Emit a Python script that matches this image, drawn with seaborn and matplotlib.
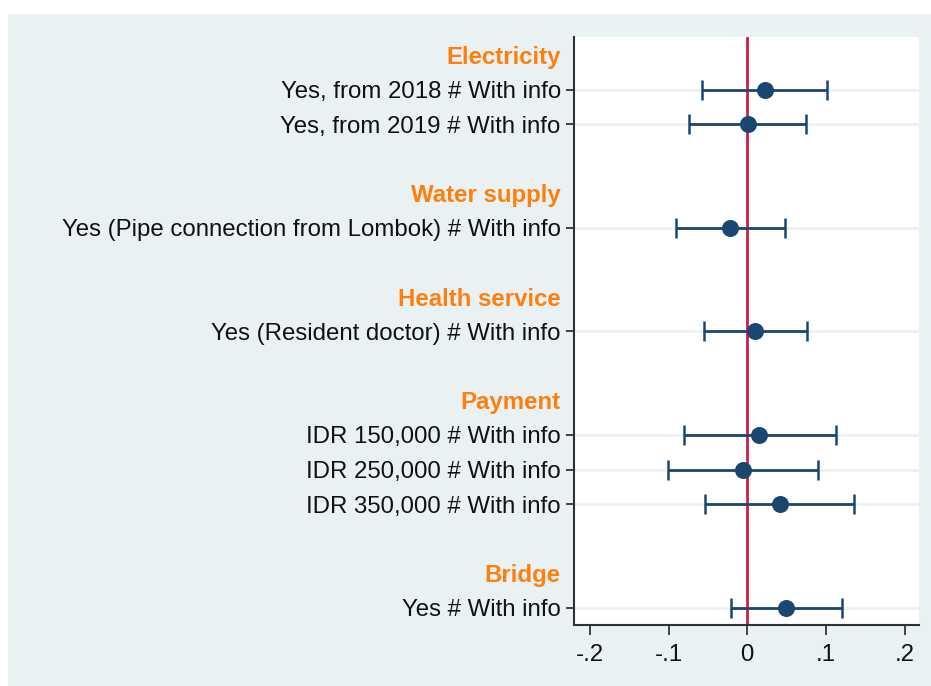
import matplotlib
matplotlib.use("Agg")
import matplotlib.pyplot as plt
import seaborn as sns
import pandas as pd
from matplotlib.patches import Rectangle

# ---- data ----
groups = ["Electricity", "Water supply", "Health service", "Payment", "Bridge"]
group_items = [
    ["Yes, from 2018 # With info", "Yes, from 2019 # With info"],
    ["Yes (Pipe connection from Lombok) # With info"],
    ["Yes (Resident doctor) # With info"],
    ["IDR 150,000 # With info", "IDR 250,000 # With info", "IDR 350,000 # With info"],
    ["Yes # With info"],
]
coef = [0.022, 0.0005, -0.0215, 0.0103, 0.0155, -0.0053, 0.041, 0.0495]
ci_low = [-0.057, -0.074, -0.091, -0.055, -0.080, -0.1007, -0.054, -0.021]
ci_high = [0.101, 0.075, 0.048, 0.0758, 0.112, 0.090, 0.136, 0.120]
xticks = [-0.2, -0.1, 0, 0.1, 0.2]
xticklabels = ["-.2", "-.1", "0", ".1", ".2"]

# ---- layout of rows (headers + items, blank row between groups) ----
header_pos, item_pos, item_labels = [], [], []
pos = 0
for g, items in zip(groups, group_items):
    header_pos.append(pos)
    pos += 1
    for it in items:
        item_pos.append(pos)
        item_labels.append(it)
        pos += 1
    pos += 1
df = pd.DataFrame({"label": item_labels, "y": item_pos, "coef": coef,
                   "lo": ci_low, "hi": ci_high})

sns.set_theme(style="white")
plt.rcParams["font.family"] = ["Liberation Sans", "DejaVu Sans"]

navy = "#1a476f"
bg = "#EAF1F3"
orange = "#FF7F0E"
red = "#CC1F45"
fs = 17.3

fig = plt.figure(figsize=(9.31, 6.86), dpi=100)
fig.patch.set_facecolor("white")
fig.patches.append(Rectangle((8 / 931, 0), 1 - 8 / 931, 1 - 14 / 686,
                             transform=fig.transFigure, facecolor=bg,
                             edgecolor="none", zorder=-10))
ax = fig.add_axes([574 / 931, 1 - 625 / 686, (919 - 574) / 931, (625 - 37) / 686])
ax.set_facecolor("white")

# grid lines on item rows
for y in df["y"]:
    ax.axhline(y, color="#EAF0F3", lw=2, zorder=0)

ax.axvline(0, color=red, lw=2, zorder=1)

ax.errorbar(df["coef"], df["y"],
            xerr=[df["coef"] - df["lo"], df["hi"] - df["coef"]],
            fmt="none", ecolor=navy, elinewidth=2, capsize=7.5, capthick=1.8,
            zorder=2)
sns.scatterplot(data=df, x="coef", y="y", ax=ax, color=navy, s=150,
                edgecolor=navy, linewidth=0, zorder=3, legend=False)

ax.set_xlim(-0.22, 0.218)
ax.set_ylim(16.5, -0.52)

all_pos = header_pos + item_pos
all_lab = groups + item_labels
ax.set_yticks(all_pos)
ax.set_yticklabels(all_lab)
ax.tick_params(axis="y", length=6, width=1.3, color="#333333", pad=3.5,
               labelsize=fs, labelcolor="#111111", left=True)
for tl, tick, p in zip(ax.get_yticklabels(), ax.yaxis.get_major_ticks(), all_pos):
    if p in header_pos:
        tl.set_color(orange)
        tl.set_fontweight("bold")
        tick.tick1line.set_visible(False)

ax.set_xticks(xticks)
ax.set_xticklabels(xticklabels)
ax.tick_params(axis="x", length=7, width=1.3, color="#333333", pad=7,
               labelsize=fs, labelcolor="#111111", bottom=True)

ax.set_xlabel("")
ax.set_ylabel("")
sns.despine(ax=ax, top=True, right=True)
for s in ["left", "bottom"]:
    ax.spines[s].set_color("#333333")
    ax.spines[s].set_linewidth(1.5)

fig.savefig("out.png", dpi=100, facecolor=fig.get_facecolor())
